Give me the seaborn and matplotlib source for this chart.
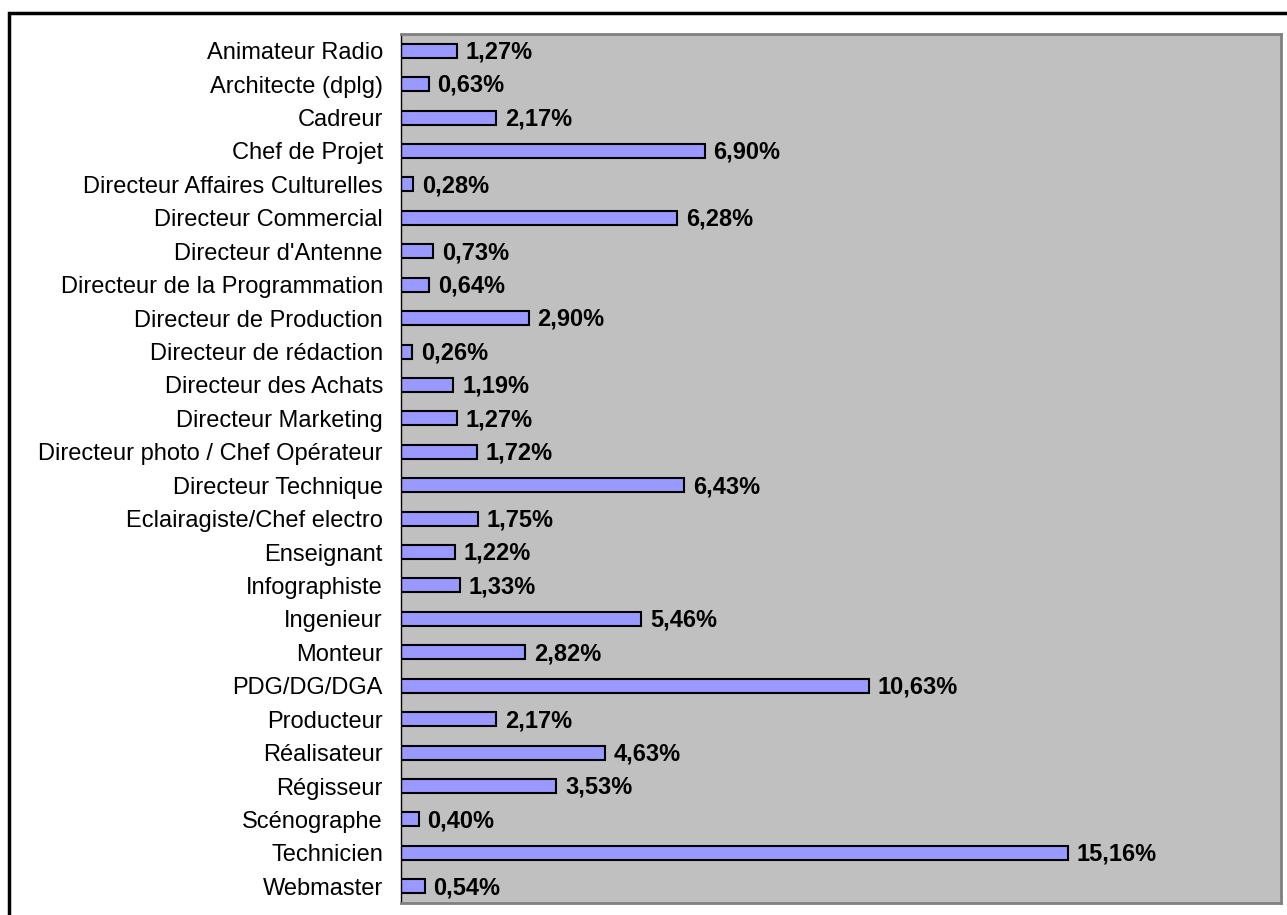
import numpy as np
import pandas as pd
import seaborn as sns
import matplotlib.pyplot as plt
from matplotlib.patches import Rectangle

# Data
metiers = [
    "Animateur Radio", "Architecte (dplg)", "Cadreur", "Chef de Projet",
    "Directeur Affaires Culturelles", "Directeur Commercial", "Directeur d'Antenne",
    "Directeur de la Programmation", "Directeur de Production", "Directeur de rédaction",
    "Directeur des Achats", "Directeur Marketing", "Directeur photo / Chef Opérateur",
    "Directeur Technique", "Eclairagiste/Chef electro", "Enseignant", "Infographiste",
    "Ingenieur", "Monteur", "PDG/DG/DGA", "Producteur", "Réalisateur", "Régisseur",
    "Scénographe", "Technicien", "Webmaster",
]
pourcentages = [
    1.27, 0.63, 2.17, 6.90, 0.28, 6.28, 0.73, 0.64, 2.90, 0.26, 1.19, 1.27, 1.72,
    6.43, 1.75, 1.22, 1.33, 5.46, 2.82, 10.63, 2.17, 4.63, 3.53, 0.40, 15.16, 0.54,
]

df = pd.DataFrame({"Metier": metiers, "Pct": pourcentages})

sns.set_style("white")
plt.rcParams["font.family"] = ["Liberation Sans", "DejaVu Sans"]

W, H = 1287, 915
fig = plt.figure(figsize=(W / 100, H / 100), dpi=100)
ax = fig.add_axes([401 / W, 1 - 903 / H, (1281 - 401) / W, (903 - 34) / H])

sns.barplot(data=df, x="Pct", y="Metier", orient="h", color="#9999FF",
            edgecolor="black", linewidth=1.5, width=0.42, saturation=1, ax=ax)

ax.set_facecolor("#C0C0C0")
ax.set_xlim(0, 20)
ax.set_ylim(len(metiers) - 0.5, -0.5)
ax.set_xlabel("")
ax.set_ylabel("")
ax.set_xticks([])

# category labels, tick marks between categories
ax.tick_params(axis="y", which="major", length=0, pad=13, labelsize=17,
               labelcolor="black")
ax.set_yticks(np.arange(-0.5, len(metiers) + 0.5, 1), minor=True)
ax.tick_params(axis="y", which="minor", length=6, width=1, color="black")

for side in ["top", "right", "bottom"]:
    ax.spines[side].set_color("#808080")
    ax.spines[side].set_linewidth(2)
ax.spines["left"].set_color("black")
ax.spines["left"].set_linewidth(1)

for i, v in enumerate(pourcentages):
    ax.text(v + 0.2, i + 0.04, f"{v:.2f}%".replace(".", ","), va="center", ha="left",
            fontsize=17, fontweight="bold", color="black")

# outer chart border
fig.patches.append(Rectangle((8.5 / W, -0.01), 1.0, 1 - 12.5 / H + 0.01,
                             transform=fig.transFigure, fill=False,
                             edgecolor="black", linewidth=2.5))

fig.savefig("out.png", dpi=100)
